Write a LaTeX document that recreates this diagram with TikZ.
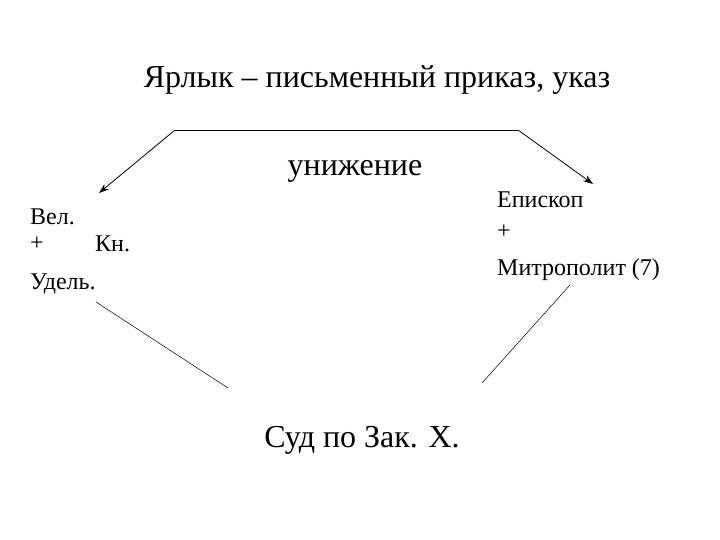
\documentclass[tikz,border=0pt]{standalone}
\usepackage{fontspec}
\usetikzlibrary{arrows.meta}
\setmainfont{Liberation Serif}
\begin{document}
\begin{tikzpicture}[x=1pt,y=-1pt,
  big/.style={font=\fontsize{32}{36}\selectfont,inner sep=0pt},
  small/.style={font=\fontsize{24}{28}\selectfont,inner sep=0pt,anchor=west},
  ln/.style={line width=0.8pt},
  arr/.style={ln,-{Stealth[length=10pt,width=7pt]}}]
\useasboundingbox (0,0) rectangle (720,540);
\node[big] (title) at (377,80) {Ярлык – письменный приказ, указ};
\node[big] (un) at (355,171) {унижение};
\node[big] (sud) at (362,440) {Суд по Зак. Х.};
\node[small] (vel) at (30,217) {Вел.};
\node[small] (pl1) at (30,244) {+};
\node[small] (kn) at (95,244) {Кн.};
\node[small] (ud) at (30,284) {Удель.};
\node[small] (ep) at (497,200) {Епископ};
\node[small] (pl2) at (497,232) {+};
\node[small] (mit) at (497,270) {Митрополит (7)};
\coordinate (a) at (175,130);
\coordinate (b) at (518,130);
\coordinate (l) at (99,193);
\coordinate (r) at (593,184);
\coordinate (l1) at (96,302);
\coordinate (l2) at (228,388);
\coordinate (r1) at (570,285);
\coordinate (r2) at (482,383);
\draw[ln] (a) -- (b);
\draw[arr] (a) -- (l);
\draw[arr] (b) -- (r);
\draw[line width=0.5pt] (l1) -- (l2);
\draw[line width=0.5pt] (r1) -- (r2);
\end{tikzpicture}
\end{document}
